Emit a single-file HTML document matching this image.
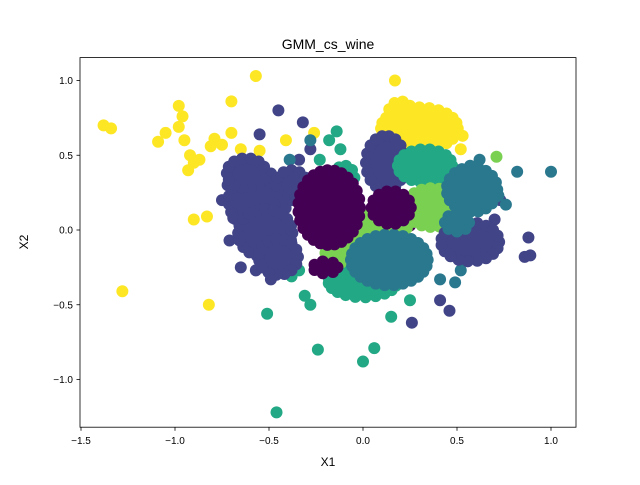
<!DOCTYPE html>
<html><head><meta charset="utf-8"><style>
body{margin:0;background:#fff}
text{font-family:"Liberation Sans","DejaVu Sans",sans-serif;fill:#000}
</style></head><body>
<svg id="chart" width="640" height="480" xmlns="http://www.w3.org/2000/svg">
<rect width="640" height="480" fill="#fff"/>
<text x="328" y="49" font-size="14" text-anchor="middle">GMM_cs_wine</text>
<g id="marks"></g>
<rect x="80" y="57.6" width="496" height="369.6" fill="none" stroke="#000" stroke-width="0.8"/>
<g id="axes"></g>
<text x="328" y="466" font-size="12" text-anchor="middle">X1</text>
<text x="28" y="242" font-size="12" text-anchor="middle" transform="rotate(-90 28 242)">X2</text>
</svg>
<script>
const xTicks=[-1.5,-1.0,-0.5,0.0,0.5,1.0];
const yTicks=[-1.0,-0.5,0.0,0.5,1.0];
const colors=["#440154","#414487","#2a788e","#22a884","#7ad151","#fde725"];
const names=["purple","indigo","teal","green","lightgreen","yellow"];
// cores drawn in this order: [cluster, cx, cy, rx, ry]
const cores=[
[1,-0.56,0.2,0.17,0.22],[1,-0.52,-0.02,0.16,0.18],[1,-0.45,-0.18,0.12,0.14],[1,-0.62,0.38,0.12,0.12],[1,-0.38,0.3,0.1,0.12],
[5,0.3,0.68,0.22,0.16],[5,0.2,0.78,0.08,0.1],
[1,0.12,0.45,0.12,0.2],
[3,0.33,0.43,0.16,0.13],[3,0.0,-0.34,0.2,0.13],[3,-0.1,0.35,0.07,0.1],
[4,0.37,0.15,0.16,0.15],[4,0.12,0.05,0.14,0.11],[4,-0.03,-0.1,0.14,0.09],[4,-0.13,-0.17,0.09,0.07],
[1,0.57,-0.08,0.17,0.15],
[2,0.14,-0.2,0.22,0.19],[2,0.58,0.27,0.15,0.17],[2,0.5,0.05,0.08,0.08],
[0,-0.18,0.15,0.18,0.27],[0,0.15,0.15,0.12,0.13],[0,-0.2,-0.25,0.08,0.06]
];
const ptsX={
1:[-0.45,-0.32,-0.55,0.88,0.89,0.86,0.26,0.46,0.41,-0.71,-0.69,-0.65,-0.57,-0.49,0.73,0.70,0.62,0.52,-0.34,-0.28,-0.55,-0.72,-0.75],
5:[-1.38,-1.34,-1.09,-1.05,-0.98,-0.96,-0.98,-0.95,-0.92,-0.90,-0.93,-0.87,-0.81,-0.79,-0.70,-0.70,-0.57,-0.90,-0.83,-1.28,-0.82,-0.62,-0.57,-0.41,-0.26,0.17,-0.75,-0.65,-0.55,0.49,0.53,0.52],
3:[-0.46,-0.24,0.0,0.06,-0.51,-0.31,-0.28,0.15,-0.38,-0.34,-0.14,-0.18,-0.12,-0.23,0.25],
4:[0.71],
2:[1.0,0.82,0.72,0.76,0.57,0.62,0.52,0.49,0.41,-0.28,-0.39],
0:[-0.38,-0.12,0.25]
};
const ptsY={
1:[0.80,0.72,0.64,-0.05,-0.17,-0.18,-0.62,-0.54,-0.47,-0.07,0.08,-0.25,-0.27,-0.33,0.2,0.07,-0.13,-0.2,0.47,0.54,-0.07,0.3,0.2],
5:[0.70,0.68,0.59,0.65,0.83,0.76,0.69,0.60,0.50,0.45,0.40,0.47,0.56,0.61,0.65,0.86,1.03,0.07,0.09,-0.41,-0.50,-0.12,0.47,0.60,0.65,1.00,0.57,0.54,0.53,0.70,0.63,0.54],
3:[-1.22,-0.80,-0.88,-0.79,-0.56,-0.44,-0.50,-0.58,-0.31,-0.27,0.66,0.60,0.54,0.47,-0.47],
4:[0.49],
2:[0.39,0.39,0.23,0.17,0.43,0.47,-0.27,-0.35,-0.33,0.6,0.47],
0:[-0.1,-0.3,0.03]
};
const order=[1,5,3,4,2,0];
const X=v=>363+v*188, Y=v=>230-v*149.5;
const NS="http://www.w3.org/2000/svg";
const g=document.getElementById('marks'), ax=document.getElementById('axes');
function mk(t,a,p){const e=document.createElementNS(NS,t);for(const k in a)e.setAttribute(k,a[k]);p.appendChild(e);return e;}
order.forEach(c=>{
  ptsX[c].forEach((xv,i)=>{
    const e=mk('circle',{cx:X(xv),cy:Y(ptsY[c][i]),r:6,fill:colors[c]},g);
    
    
  });
});
cores.forEach(r=>{
  const c=r[0], cx=X(r[1]), cy=Y(r[2]);
  const rx=Math.max(r[3]*188-3,3), ry=Math.max(r[4]*149.5-3,3);
  const grp=mk('g',{},g);
  
  
  mk('ellipse',{cx:cx,cy:cy,rx:rx,ry:ry,fill:colors[c]},grp);
  const per=2*Math.PI*Math.sqrt((rx*rx+ry*ry)/2);
  const n=Math.max(6,Math.round(per/8));
  for(let k=0;k<n;k++){
    const a=2*Math.PI*k/n;
    mk('circle',{cx:cx+rx*Math.cos(a),cy:cy+ry*Math.sin(a),r:6,fill:colors[c]},grp);
  }
});
xTicks.forEach(v=>{
  mk('line',{x1:X(v),x2:X(v),y1:427.2,y2:430.7,stroke:'#000','stroke-width':0.8},ax);
  const t=mk('text',{x:X(v),y:444,'font-size':10,'text-anchor':'middle'},ax);
  t.textContent=(v<0?'\u2212':'')+Math.abs(v).toFixed(1);
  
  
});
yTicks.forEach(v=>{
  mk('line',{x1:76.5,x2:80,y1:Y(v),y2:Y(v),stroke:'#000','stroke-width':0.8},ax);
  const t=mk('text',{x:73,y:Y(v)+3.5,'font-size':10,'text-anchor':'end'},ax);
  t.textContent=(v<0?'\u2212':'')+Math.abs(v).toFixed(1);
  
  
});
</script>
</body></html>
